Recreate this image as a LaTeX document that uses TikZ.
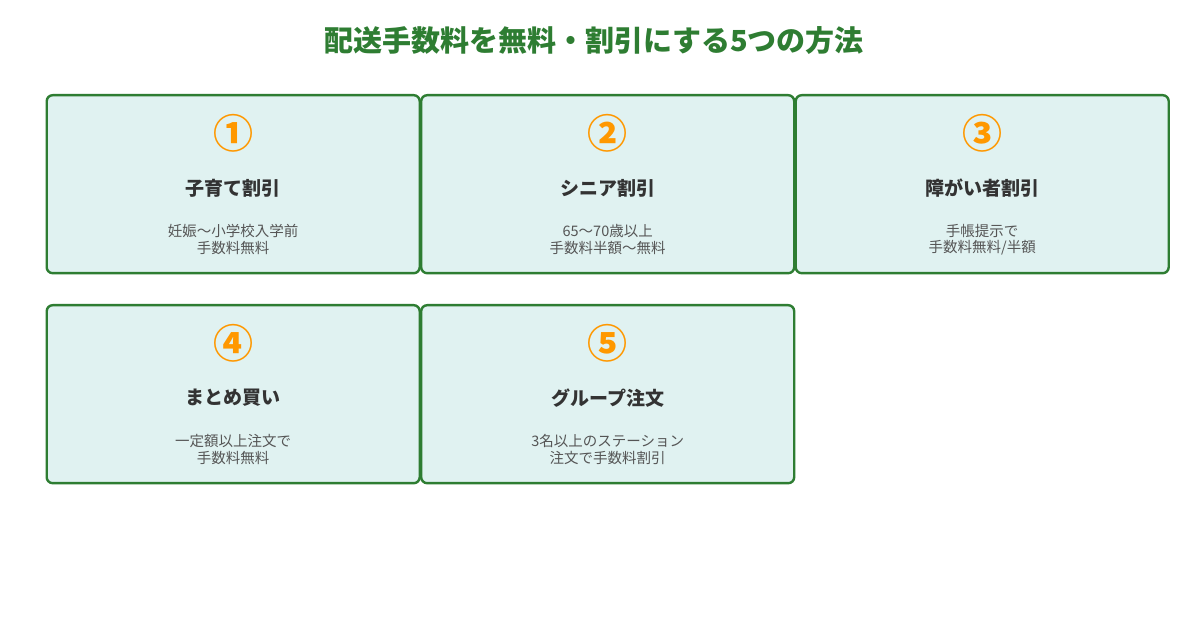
\documentclass[tikz,border=0pt]{standalone}
\usepackage{fontspec}
\setmainfont{Noto Sans CJK JP}
\newfontfamily\cjk{Noto Sans CJK JP}
\definecolor{boxgreen}{HTML}{2E7D32}
\definecolor{boxfill}{HTML}{E0F2F1}
\definecolor{numorange}{HTML}{FF9800}
\definecolor{titledark}{HTML}{333333}
\definecolor{descgray}{HTML}{555555}
\tikzset{
  card/.style={draw=boxgreen, line width=2.4pt, fill=boxfill, rounded corners=6pt,
    minimum width=373pt, minimum height=178pt, inner sep=0pt, anchor=north west},
  num/.style={text=numorange, font=\cjk\bfseries\fontsize{40}{40}\selectfont, inner sep=0pt},
  ctitle/.style={text=titledark, font=\cjk\bfseries\fontsize{19}{19}\selectfont, inner sep=0pt},
  cdesc/.style={text=descgray, font=\cjk\fontsize{14.5}{17.5}\selectfont, align=center, inner sep=0pt},
  maintitle/.style={text=boxgreen, font=\cjk\bfseries\fontsize{29}{29}\selectfont, inner sep=0pt}
}
\begin{document}
\begin{tikzpicture}[x=1pt,y=1pt]
\useasboundingbox[fill=white] (0,0) rectangle (1189,620);
\node[maintitle] (title) at (594,579) {配送手数料を無料・割引にする5つの方法};
% cards
\node[card] (c1) at (45.5,526) {};
\node[card] (c2) at (420,526) {};
\node[card] (c3) at (794.5,526) {};
\node[card] (c4) at (45.5,316) {};
\node[card] (c5) at (420,316) {};
% contents
\foreach \c/\n/\t/\da/\db in {
  c1/①/子育て割引/妊娠〜小学校入学前/手数料無料,
  c2/②/シニア割引/65〜70歳以上/手数料半額〜無料,
  c3/③/障がい者割引/手帳提示で/{手数料無料/半額},
  c4/④/まとめ買い/一定額以上注文で/手数料無料,
  c5/⑤/グループ注文/3名以上のステーション/注文で手数料割引}{
  \node[num] (\c-num) at ([yshift=-39pt]\c.north) {\n};
  \node[ctitle] (\c-title) at ([yshift=-94pt]\c.north) {\t};
  \node[cdesc] (\c-da) at ([yshift=-137pt]\c.north) {\da};
  \node[cdesc] (\c-db) at ([yshift=-154pt]\c.north) {\db};
}
\end{tikzpicture}
\end{document}
